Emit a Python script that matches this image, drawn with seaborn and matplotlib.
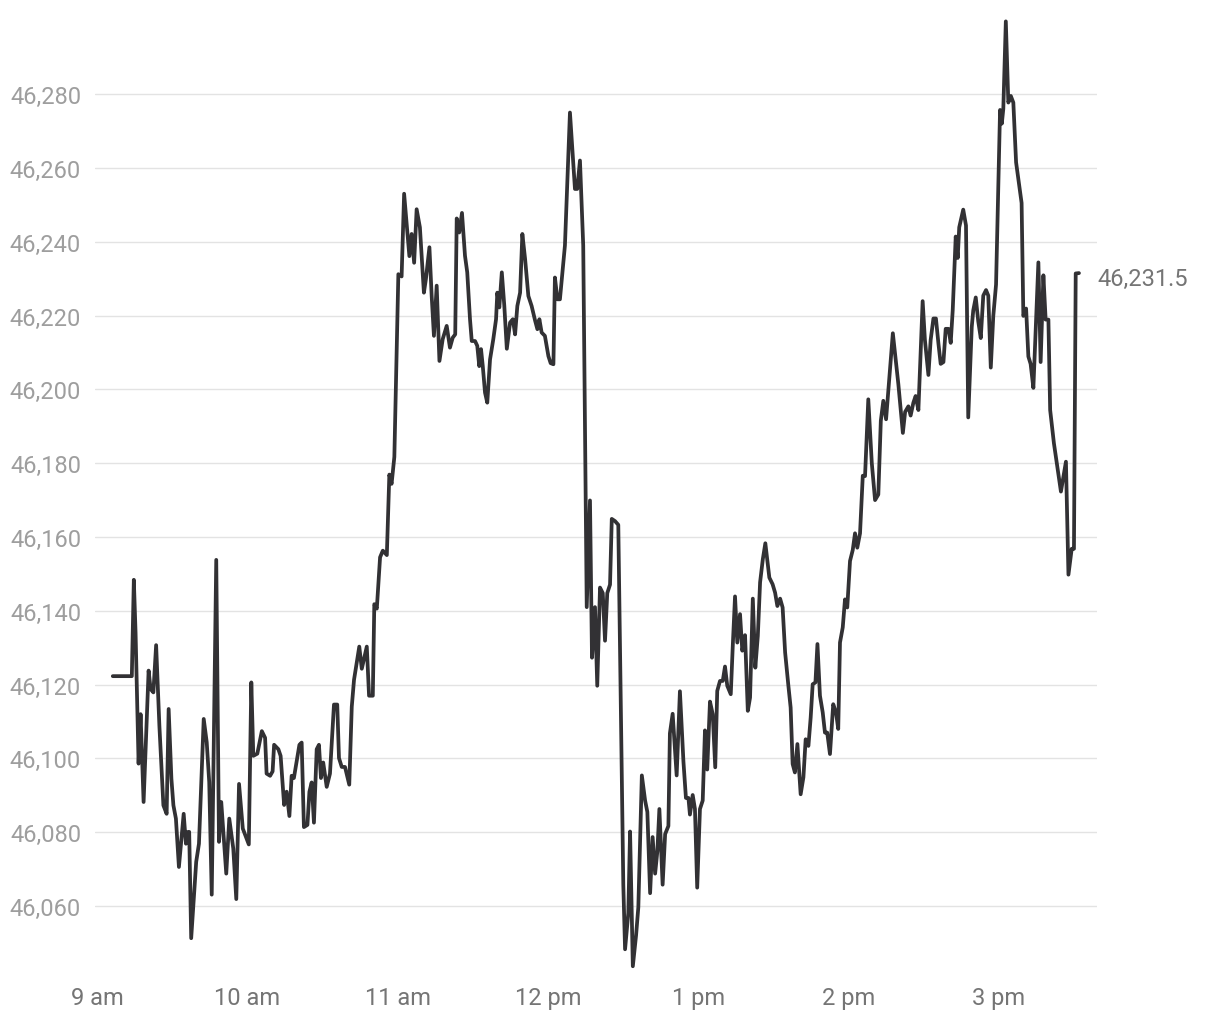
import pandas as pd
import matplotlib
matplotlib.use("Agg")
import matplotlib.pyplot as plt
import seaborn as sns

# minutes after 9:00 and price
minutes = [
    6.3, 13.9, 14.7, 15.4, 16.6, 17.4, 18.6, 20.6, 21.4, 22.5,
    23.6, 24.9, 26.5, 27.8, 28.6, 29.7, 30.5, 31.5, 32.7, 34.6,
    35.5, 36.3, 36.8, 37.6, 39.6, 40.7, 42.6, 43.8, 44.8, 45.8,
    47.6, 48.7, 49.6, 51.6, 52.8, 54.4, 55.6, 56.7, 58.2, 59.5,
    60.6, 61.6,
    62.4, 64.0, 65.8, 67.1, 67.7, 69.1, 70.1, 70.7, 72.4, 73.3,
    74.7, 75.7, 76.8, 77.7, 78.6, 80.8, 81.7, 82.6, 84.0, 84.8,
    85.7, 86.6, 87.7, 88.6, 89.4, 90.3, 91.7, 93.0, 94.6, 95.9,
    96.6, 97.7, 99.0, 100.7, 101.7, 102.6, 104.7, 105.7, 107.7, 108.6,
    110.1, 110.7, 111.7, 113.0, 114.1, 115.7, 116.7, 117.6, 118.7, 120.3,
    121.6, 122.6, 124.7, 125.6, 126.6, 127.6, 128.9,
    130.5, 131.3, 132.7, 133.6, 134.5, 135.6, 136.7, 138.0, 139.6, 140.9,
    142.0, 143.0, 143.6, 144.6, 145.7, 146.9, 147.8, 148.9, 149.6, 150.9,
    151.8, 152.6, 153.3, 154.0, 154.9, 155.8, 156.9, 158.2, 159.3, 159.8,
    160.6, 161.6, 162.6, 163.6, 164.9, 166.0, 166.9, 167.8, 168.9, 169.8,
    170.9, 172.2, 173.5, 174.9, 175.8, 176.6, 177.5, 178.8, 180.2, 181.1,
    182.2, 182.8, 183.8, 184.8, 186.8, 188.8, 190.8, 191.7, 192.8, 194.1,
    195.5, 196.8, 197.6, 198.8, 199.7, 200.8, 201.9, 202.8, 203.7, 204.8,
    205.5, 206.8, 208.1, 210.1, 210.8, 212.1, 212.8, 213.9, 215.2, 216.1,
    217.5, 218.8, 219.7, 220.8, 221.8, 222.8, 223.7, 224.5, 225.8, 226.8,
    228.1, 228.7, 229.8, 231.4, 232.7, 234.1, 235.1, 236.1, 236.7, 237.8,
    238.7, 239.6, 240.7, 241.8,
    242.7, 243.6, 244.7, 245.8, 246.8, 247.6, 248.7, 249.8, 250.7, 251.6,
    253.0, 253.8, 254.7, 255.6, 256.7, 257.6, 258.7, 259.8, 260.7, 261.8,
    262.8, 263.8, 264.7, 265.8, 266.8, 268.4, 269.7, 270.7, 271.6, 272.7,
    273.7, 274.7, 276.0, 276.9, 277.7, 278.6, 279.6, 280.9, 282.0, 282.9,
    284.0, 284.9, 285.7, 286.8, 287.6, 288.6, 289.7, 290.6, 291.5, 292.6,
    293.9, 295.0, 295.9, 296.6, 297.7, 298.6, 299.5, 300.6, 301.7, 302.6,
    303.5, 304.6, 305.7, 306.6,
    307.9, 309.3, 310.6, 311.9, 312.9, 313.9, 315.0, 317.7, 319.9, 321.7,
    322.6, 323.9, 324.8, 325.9, 326.8, 327.9, 329.6, 330.5, 331.9, 332.8,
    333.9, 334.9, 335.9, 336.8, 337.9, 338.8, 339.9, 340.8, 341.6, 342.8,
    343.6, 344.2, 345.8, 346.9, 347.8, 349.2, 349.8, 350.8, 351.8, 352.8,
    353.8, 354.9, 355.8, 356.8, 357.8, 358.9, 360.5, 361.2, 361.8, 362.8,
    363.8, 364.8, 365.8, 366.9, 369.1, 369.8, 370.9, 371.8, 372.7, 373.8,
    375.8, 376.7, 377.8, 378.7, 379.8, 380.5, 382.0, 383.8, 384.8, 386.8,
    387.8, 389.1, 390.0, 390.7, 392.0,
]

prices = [
    46122.3, 46122.3, 46148.4, 46134.0, 46098.6, 46112.0, 46088.2, 46123.8, 46118.8, 46117.9,
    46130.7, 46108.9, 46087.3, 46085.0, 46113.4, 46094.5, 46087.3, 46083.7, 46070.6, 46085.0,
    46076.9, 46080.1, 46080.1, 46051.3, 46072.0, 46076.9, 46110.7, 46104.4, 46093.6, 46063.1,
    46153.8, 46077.4, 46088.2, 46068.8, 46083.7, 46075.6, 46061.9, 46093.1, 46081.0, 46078.7,
    46076.7, 46120.6,
    46100.7, 46101.3, 46107.4, 46105.6, 46095.9, 46095.3, 46096.5, 46103.7, 46102.5, 46100.7,
    46087.4, 46091.0, 46084.4, 46095.3, 46094.7, 46103.7, 46104.3, 46081.4, 46082.0, 46091.0,
    46093.5, 46082.6, 46102.5, 46103.7, 46094.7, 46098.9, 46092.3, 46095.9, 46114.6, 46114.6,
    46100.1, 46097.7, 46097.7, 46092.9, 46114.0, 46121.3, 46130.3, 46124.3, 46130.3, 46117.0,
    46117.0, 46141.8, 46140.6, 46154.5, 46156.3, 46155.1, 46176.9, 46174.4, 46181.7, 46231.2,
    46230.6, 46253.0, 46236.1, 46242.1, 46234.3, 46248.8, 46243.9,
    46226.2, 46229.9, 46238.5, 46225.3, 46214.5, 46228.1, 46207.7, 46213.6, 46217.2, 46211.3,
    46214.0, 46214.9, 46246.3, 46242.5, 46247.8, 46236.2, 46231.7, 46219.0, 46213.1, 46213.1,
    46211.8, 46206.3, 46210.9, 46206.3, 46199.1, 46196.4, 46208.1, 46213.6, 46219.0, 46226.2,
    46222.2, 46231.7, 46222.6, 46211.0, 46218.1, 46219.0, 46214.9, 46222.6, 46226.2, 46242.1,
    46235.3, 46225.3, 46222.6, 46218.6, 46216.3, 46219.0, 46215.4, 46214.5, 46209.0, 46207.1,
    46206.8, 46230.3, 46224.4, 46224.4, 46239.0, 46275.0, 46254.3, 46254.3, 46262.0, 46239.0,
    46141.0, 46169.9, 46127.3, 46141.0, 46119.7, 46146.3, 46144.8, 46131.9, 46144.8, 46147.1,
    46164.9, 46164.3, 46163.3, 46065.8, 46048.3, 46058.1, 46080.2, 46043.7, 46052.1, 46059.7,
    46095.4, 46088.6, 46085.5, 46063.5, 46078.7, 46068.8, 46074.9, 46086.3, 46065.8, 46079.5,
    46081.7, 46106.8, 46112.1, 46095.4, 46118.2, 46099.2, 46089.3, 46089.3, 46084.8, 46090.1,
    46086.3, 46065.0, 46086.3, 46088.6,
    46107.6, 46097.0, 46115.4, 46112.0, 46097.6, 46118.3, 46121.0, 46121.0, 46124.9, 46119.7,
    46117.4, 46130.5, 46143.9, 46131.4, 46139.1, 46129.2, 46133.4, 46112.9, 46116.5, 46143.3,
    46124.6, 46133.2, 46147.7, 46154.0, 46158.3, 46149.0, 46147.2, 46144.9, 46141.3, 46143.3,
    46140.9, 46128.7, 46119.7, 46113.8, 46098.5, 46096.2, 46103.9, 46090.3, 46094.9, 46105.2,
    46103.4, 46111.1, 46120.1, 46120.6, 46131.0, 46117.0, 46112.5, 46107.0, 46107.0, 46101.2,
    46114.7, 46112.5, 46108.0, 46131.4, 46135.5, 46143.1, 46140.9, 46153.5, 46156.5, 46161.0,
    46157.1, 46161.0, 46176.6, 46176.5,
    46197.3, 46180.0, 46170.0, 46171.5, 46191.5, 46196.9, 46191.9, 46215.2, 46201.4, 46188.2,
    46193.9, 46195.4, 46192.9, 46196.4, 46198.2, 46194.4, 46223.9, 46213.4, 46203.9, 46213.4,
    46219.2, 46219.2, 46212.4, 46206.9, 46207.4, 46216.4, 46216.4, 46212.6, 46221.4, 46241.4,
    46235.6, 46243.9, 46248.7, 46244.4, 46192.4, 46216.9, 46221.4, 46224.9, 46218.4, 46213.9,
    46225.4, 46226.9, 46225.4, 46205.9, 46219.9, 46228.4, 46275.7, 46272.0, 46276.0, 46299.7,
    46277.7, 46279.5, 46277.7, 46261.5, 46250.5, 46219.9, 46221.9, 46208.9, 46206.9, 46200.4,
    46234.4, 46207.4, 46230.9, 46218.9, 46218.9, 46194.4, 46185.4, 46176.9, 46172.3, 46180.4,
    46149.8, 46156.8, 46156.8, 46231.4, 46231.5,
]

hour_ticks = [0, 60, 120, 180, 240, 300, 360]
hour_labels = ['9 am', '10 am', '11 am', '12 pm', '1 pm', '2 pm', '3 pm']
price_ticks = list(range(46060, 46281, 20))

sns.set_style('white')
plt.rcParams['font.family'] = ['Roboto', 'DejaVu Sans']

df = pd.DataFrame({'minute': minutes, 'price': prices})

fig = plt.figure(figsize=(12.2, 10.2), dpi=100)
ax = fig.add_axes([95 / 1220, 45 / 1020, 1002 / 1220, 960 / 1020])

sns.lineplot(data=df, x='minute', y='price', ax=ax, color='#323134',
             linewidth=2.7, solid_joinstyle='round', solid_capstyle='round')

ax.set_xlim(-0.8, 399.2)
ax.set_ylim(46041.6, 46301.7)

ax.set_xticks(hour_ticks)
ax.set_xticklabels(hour_labels)
ax.set_yticks(price_ticks)
ax.set_yticklabels([f'{v:,}' for v in price_ticks])

ax.tick_params(axis='x', length=0, pad=8.8, labelsize=17, labelcolor='#757575')
ax.tick_params(axis='y', length=0, pad=10, labelsize=17, labelcolor='#9e9e9e')

ax.yaxis.grid(True, color='#e3e3e3', linewidth=1.0)
ax.xaxis.grid(False)
for s in ax.spines.values():
    s.set_visible(False)
ax.set_xlabel('')
ax.set_ylabel('')

# last value label on the right
last = df['price'].iloc[-1]
ax.annotate(f'{last:,.1f}', xy=(1.0, last), xycoords=('axes fraction', 'data'),
            xytext=(0, -4.2), textcoords='offset points', ha='left', va='center',
            fontsize=17, color='#757575', annotation_clip=False)

fig.savefig('out.png', dpi=100)
